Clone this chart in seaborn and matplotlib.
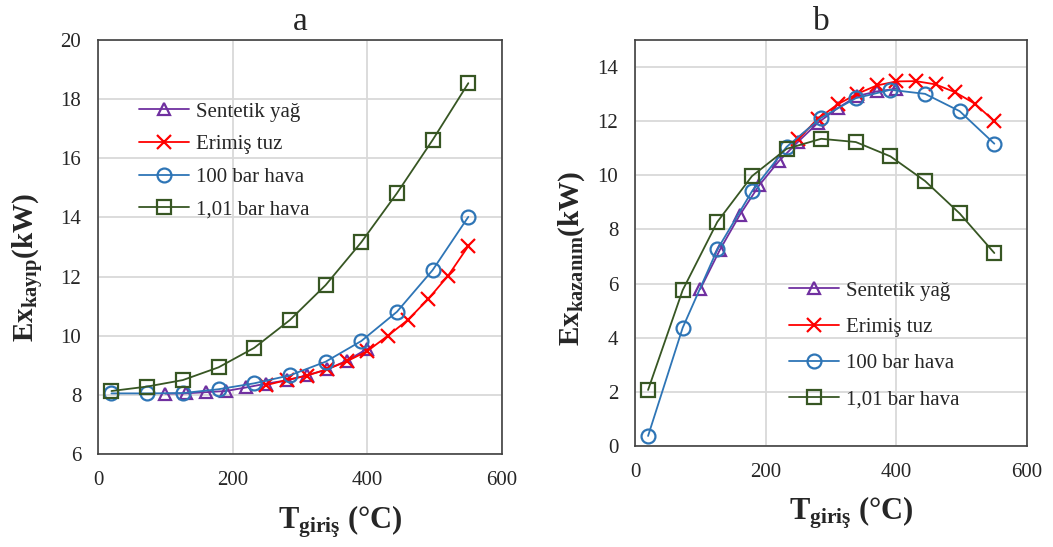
import matplotlib
matplotlib.use("Agg")
import matplotlib.pyplot as plt
import seaborn as sns
import pandas as pd

# ---------------- data ----------------
T_sentetik = [100, 130, 160, 190, 220, 250, 280, 310, 340, 370, 400]
T_tuz = [250, 280, 310, 340, 370, 400, 430, 460, 490, 520, 550]
T_hava = [20, 73, 126, 179, 232, 285, 338, 391, 444, 497, 550]

# panel a: Ex_kayip (kW)
sentetik_kayip = [8.04, 8.05, 8.09, 8.13, 8.25, 8.38, 8.49, 8.66, 8.86, 9.16, 9.56]
tuz_kayip = [8.33, 8.50, 8.65, 8.86, 9.14, 9.48, 9.99, 10.53, 11.23, 12.03, 13.03]
hava100_kayip = [8.05, 8.05, 8.06, 8.19, 8.39, 8.66, 9.12, 9.82, 10.81, 12.22, 14.02]
hava101_kayip = [8.13, 8.28, 8.50, 8.93, 9.59, 10.53, 11.71, 13.16, 14.82, 16.62, 18.54]

# panel b: Ex_kazanim (kW)
sentetik_kazanim = [5.80, 7.25, 8.52, 9.63, 10.52, 11.25, 11.94, 12.48, 12.93, 13.10, 13.20]
tuz_kazanim = [11.35, 12.09, 12.62, 13.01, 13.32, 13.47, 13.48, 13.36, 13.07, 12.65, 12.00]
hava100_kazanim = [0.37, 4.37, 7.26, 9.41, 11.05, 12.13, 12.85, 13.16, 13.01, 12.37, 11.17]
hava101_kazanim = [2.07, 5.76, 8.28, 9.97, 10.98, 11.35, 11.23, 10.70, 9.79, 8.59, 7.13]

series_names = ["Sentetik yağ", "Erimiş tuz", "100 bar hava", "1,01 bar hava"]
xticks = [0, 200, 400, 600]

# ---------------- style ----------------
sns.set_style("white")
plt.rcParams["font.family"] = ["Liberation Serif", "DejaVu Serif"]
plt.rcParams["mathtext.fontset"] = "custom"
plt.rcParams["mathtext.rm"] = "Liberation Serif"
plt.rcParams["mathtext.bf"] = "Liberation Serif:bold"
plt.rcParams["mathtext.it"] = "Liberation Serif:italic"

colors = ["#7030A0", "#FF0000", "#2E75B6", "#375623"]
markers = ["^", "x", "o", "s"]
msizes = [9, 10, 10, 10]

W, H = 1053, 547
fig = plt.figure(figsize=(W / 100, H / 100), dpi=100)

def px_axes(x0, x1, ytop, ybot):
    return [x0 / W, (H - ybot) / H, (x1 - x0) / W, (ybot - ytop) / H]

axa = fig.add_axes(px_axes(98, 502, 40, 454))
axb = fig.add_axes(px_axes(635, 1027, 40, 446))

def draw(ax, ys):
    xs = [T_sentetik, T_tuz, T_hava, T_hava]
    for x, y, name, c, m, ms in zip(xs, ys, series_names, colors, markers, msizes):
        df = pd.DataFrame({"T": x, "Ex": y})
        sns.lineplot(data=df, x="T", y="Ex", ax=ax, color=c, marker=m,
                     markersize=ms, markerfacecolor="none", markeredgecolor=c,
                     markeredgewidth=1.6, linewidth=1.3, label=name)
    ax.set_xlim(0, 600)
    ax.set_xticks(xticks)
    ax.grid(True, color="#D9D9D9", linewidth=1.3)
    ax.set_axisbelow(True)
    for s in ax.spines.values():
        s.set_color("#404040")
        s.set_linewidth(1.2)
    ax.tick_params(length=0, pad=12, labelsize=15)
    ax.set_xlabel("")
    ax.set_ylabel("")

draw(axa, [sentetik_kayip, tuz_kayip, hava100_kayip, hava101_kayip])
axa.set_ylim(6, 20)
axa.set_yticks(range(6, 21, 2))
draw(axb, [sentetik_kazanim, tuz_kazanim, hava100_kazanim, hava101_kazanim])
axb.set_ylim(0, 15)
axb.set_yticks(range(0, 15, 2))

leg_kw = dict(frameon=False, fontsize=15, handlelength=2.4, handletextpad=0.35,
              borderpad=0, borderaxespad=0, loc="upper left")
axa.legend(bbox_to_anchor=((139 - 98) / 404, (454 - 102) / 414), labelspacing=0.63, **leg_kw)
axb.legend(bbox_to_anchor=((789 - 635) / 392, (446 - 281) / 406), labelspacing=0.8, **leg_kw)

# titles
fig.text(300 / W, 1 - 30 / H, "a", ha="center", va="baseline", fontsize=24)
fig.text(821 / W, 1 - 30 / H, "b", ha="center", va="baseline", fontsize=24)

# axis labels
fig.text(28 / W, 1 - 267 / H, r"$\mathbf{Ex_{kayıp}(kW)}$", rotation=90,
         ha="center", va="center", fontsize=21)
fig.text(572 / W, 1 - 258 / H, r"$\mathbf{Ex_{kazanım}(kW)}$", rotation=90,
         ha="center", va="center", fontsize=21)
fig.text(340 / W, 1 - 522 / H, r"$\mathbf{T_{giriş}\ (°C)}$",
         ha="center", va="center", fontsize=22)
fig.text(851 / W, 1 - 513 / H, r"$\mathbf{T_{giriş}\ (°C)}$",
         ha="center", va="center", fontsize=22)

fig.savefig("out.png", dpi=100, facecolor="white")
